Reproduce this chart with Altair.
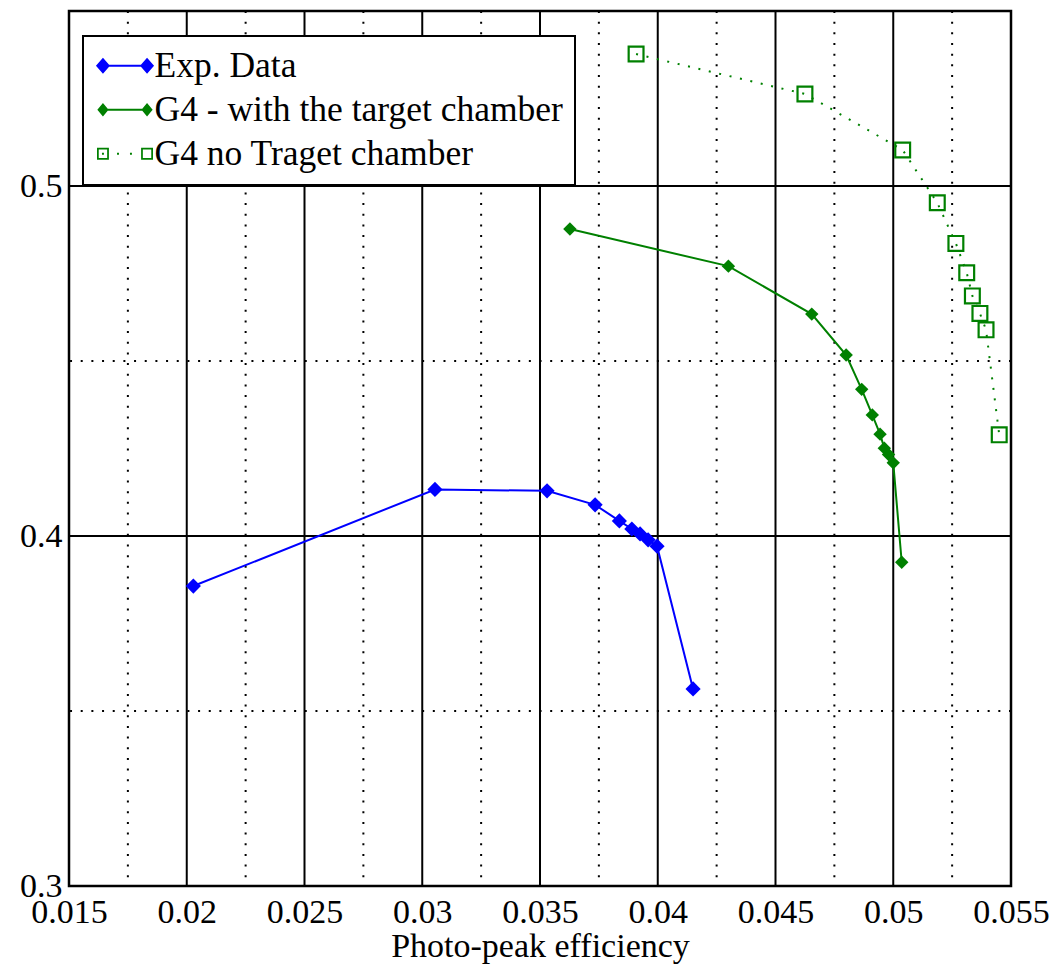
import altair as alt
import pandas as pd

# ---------------- data ----------------
exp_x = [0.02028, 0.03054, 0.0353, 0.03734, 0.03837, 0.03890, 0.03925, 0.03959, 0.03997, 0.0415]
exp_y = [0.3857, 0.4133, 0.4129, 0.4089, 0.4043, 0.4020, 0.4006, 0.3989, 0.3971, 0.3563]

tc_x = [0.03627, 0.0430, 0.04654, 0.0480, 0.04866, 0.04911, 0.04944, 0.04962, 0.04980, 0.0500, 0.05036]
tc_y = [0.4877, 0.4771, 0.4634, 0.4517, 0.4419, 0.4346, 0.4291, 0.4251, 0.4233, 0.4209, 0.3925]

ntc_x = [0.03908, 0.04625, 0.0504, 0.05187, 0.05266, 0.05312, 0.05336, 0.05368, 0.05394, 0.0545]
ntc_y = [0.5377, 0.5263, 0.5103, 0.4952, 0.4836, 0.4752, 0.4686, 0.4636, 0.4589, 0.4289]

series_names = ["Exp. Data", "G4 - with the target chamber", "G4 no Traget chamber"]
series_colors = ["#0000ff", "#008000", "#008000"]

x_ticks = [0.015, 0.02, 0.025, 0.03, 0.035, 0.04, 0.045, 0.05, 0.055]
y_ticks = [0.3, 0.4, 0.5]
x_major = [0.02, 0.025, 0.03, 0.035, 0.04, 0.045, 0.05]
x_minor = [0.0175, 0.0225, 0.0275, 0.0325, 0.0375, 0.0425, 0.0475, 0.0525]
y_major = [0.4, 0.5]
y_minor = [0.35, 0.45]

# legend glyphs (custom symbol paths: line with markers at both ends)
sym_exp = ("M-2.4,0L-1.4,-1.15L-0.4,0L-1.4,1.15Z M3.9,0L4.9,-1.15L5.9,0L4.9,1.15Z "
           "M-1.4,-0.15L4.9,-0.15L4.9,0.15L-1.4,0.15Z")
sym_tc = ("M-2.2,0L-1.4,-0.95L-0.6,0L-1.4,0.95Z M4.1,0L4.9,-0.95L5.7,0L4.9,0.95Z "
          "M-1.4,-0.13L4.9,-0.13L4.9,0.13L-1.4,0.13Z")
sym_ntc = ("M-2.25,-0.85L-0.55,-0.85L-0.55,0.85L-2.25,0.85Z M-2.0,-0.6L-2.0,0.6L-0.8,0.6L-0.8,-0.6Z "
           "M4.05,-0.85L5.75,-0.85L5.75,0.85L4.05,0.85Z M4.3,-0.6L4.3,0.6L5.5,0.6L5.5,-0.6Z "
           "M-1.54,-0.14L-1.26,-0.14L-1.26,0.14L-1.54,0.14Z "
           "M0.61,-0.14L0.89,-0.14L0.89,0.14L0.61,0.14Z "
           "M2.46,-0.14L2.74,-0.14L2.74,0.14L2.46,0.14Z")
series_symbols = [sym_exp, sym_tc, sym_ntc]

FONT = "Liberation Serif, Times New Roman, DejaVu Serif, serif"


def frame(xs, ys, name):
    return pd.DataFrame({"x": xs, "y": ys, "i": list(range(len(xs))), "series": name})


df_exp = frame(exp_x, exp_y, series_names[0])
df_tc = frame(tc_x, tc_y, series_names[1])
df_ntc = frame(ntc_x, ntc_y, series_names[2])

xenc = alt.X(
    "x:Q",
    scale=alt.Scale(domain=[0.015, 0.055], nice=False, zero=False),
    axis=alt.Axis(values=x_ticks, format="~g", title="Photo-peak efficiency",
                  grid=False, ticks=False, domain=False,
                  labelFont=FONT, labelFontSize=34, labelColor="black", labelPadding=9,
                  labelFlush=False, labelOverlap=False,
                  titleFont=FONT, titleFontSize=34, titleFontWeight="normal",
                  titleColor="black", titlePadding=0),
)
yenc = alt.Y(
    "y:Q",
    scale=alt.Scale(domain=[0.3, 0.55], nice=False, zero=False),
    axis=alt.Axis(values=y_ticks, format="~g", title="",
                  grid=False, ticks=False, domain=False,
                  labelFont=FONT, labelFontSize=34, labelColor="black", labelPadding=7,
                  labelFlush=False, labelOverlap=False),
)

DOT = [2, 8.67]

vminor = alt.Chart(pd.DataFrame({"x": x_minor})).mark_rule(
    color="black", strokeWidth=2, strokeDash=DOT).encode(x=xenc)
hminor = alt.Chart(pd.DataFrame({"y": y_minor})).mark_rule(
    color="black", strokeWidth=2, strokeDash=DOT).encode(y=yenc)
vmajor = alt.Chart(pd.DataFrame({"x": x_major})).mark_rule(
    color="black", strokeWidth=2).encode(x=xenc)
hmajor = alt.Chart(pd.DataFrame({"y": y_major})).mark_rule(
    color="black", strokeWidth=2).encode(y=yenc)

exp_line = alt.Chart(df_exp).mark_line(color="#0000ff", strokeWidth=2).encode(
    x=xenc, y=yenc, order="i:Q")
exp_pts = alt.Chart(df_exp).mark_point(
    shape="diamond", filled=True, color="#0000ff", opacity=1, size=230).encode(x=xenc, y=yenc)

tc_line = alt.Chart(df_tc).mark_line(color="#008000", strokeWidth=2).encode(
    x=xenc, y=yenc, order="i:Q")
tc_pts = alt.Chart(df_tc).mark_point(
    shape="diamond", filled=True, color="#008000", opacity=1, size=180).encode(x=xenc, y=yenc)

ntc_line = alt.Chart(df_ntc).mark_line(
    color="#008000", strokeWidth=2, strokeDash=DOT).encode(x=xenc, y=yenc, order="i:Q")
ntc_pts = alt.Chart(df_ntc).mark_point(
    shape="square", filled=False, color="#008000", opacity=1, size=220, strokeWidth=2.2
).encode(x=xenc, y=yenc)

legend = alt.Legend(
    title=None, orient="none", legendX=14, legendY=25,
    fillColor="white", strokeColor="black",
    padding=12, rowPadding=7, labelOffset=24, labelLimit=0,
    labelFont=FONT, labelFontSize=35.5, labelColor="black",
    symbolSize=196, symbolStrokeWidth=0, symbolOpacity=1,
)
legend_layer = alt.Chart(pd.DataFrame({"series": series_names})).mark_point(
    filled=True, opacity=1).encode(
    color=alt.Color("series:N", scale=alt.Scale(domain=series_names, range=series_colors),
                    legend=legend),
    shape=alt.Shape("series:N", scale=alt.Scale(domain=series_names, range=series_symbols),
                    legend=legend),
).transform_filter("datum.series == 'none'")

chart = alt.layer(
    vminor, hminor, vmajor, hmajor,
    exp_line, exp_pts, tc_line, tc_pts, ntc_line, ntc_pts,
    legend_layer,
).properties(
    width=942, height=875,
    autosize=alt.AutoSizeParams(type="none"),
    padding={"left": 69, "top": 11, "right": 45, "bottom": 82},
    background="white",
).configure_view(stroke="black", strokeWidth=2.5).configure_legend(strokeWidth=2)

chart.save("out.html", embed_options={"renderer": "svg", "actions": False})
